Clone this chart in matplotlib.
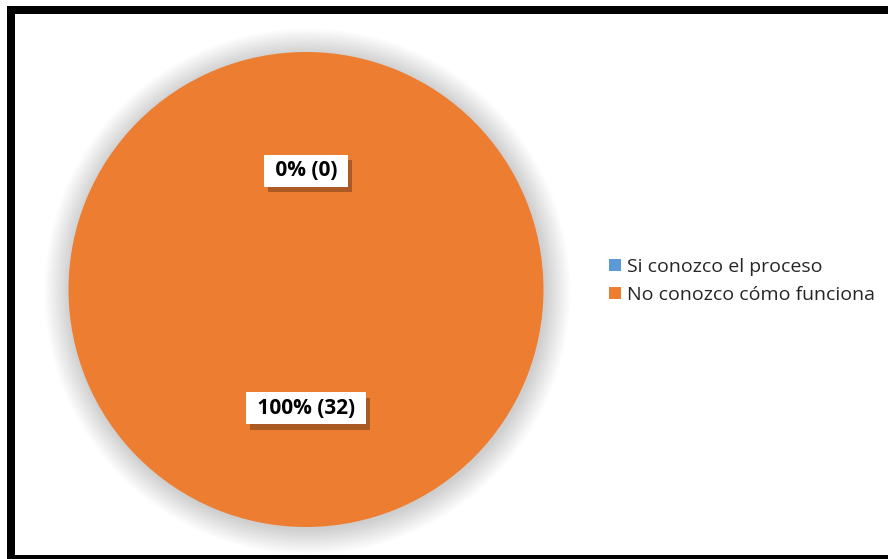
import matplotlib
matplotlib.use("Agg")
import matplotlib.pyplot as plt
from matplotlib.patches import Rectangle, Circle
import matplotlib.patheffects as pe

categories = ["Si conozco el proceso", "No conozco cómo funciona"]
counts = [0, 32]
colors = ["#5B9BD5", "#ED7D31"]

plt.rcParams['font.family'] = ['Open Sans', 'DejaVu Sans']

W, H = 888, 559
fig = plt.figure(figsize=(W/100, H/100), dpi=100)

cx, cy, r = 306, 289.5, 237.5
ax = fig.add_axes([(cx - r)/W, (H - cy - r)/H, 2*r/W, 2*r/H])
ax.set_aspect('equal')

# soft shadow halo
n = 24
for i in range(n):
    rr = 1.0 + 0.0045*(n - i)
    ax.add_patch(Circle((0.006, -0.008), rr, color='black', alpha=0.008, lw=0,
                        zorder=0, clip_on=False))

total = sum(counts)
def fmt(pct):
    return f" {pct:.0f}% ({round(pct*total/100)}) "

wedges, texts, autotexts = ax.pie(counts, colors=colors, startangle=90, counterclock=False,
                                  autopct=fmt, pctdistance=0.5, radius=1.0,
                                  wedgeprops=dict(linewidth=0, zorder=1))
for t in autotexts:
    t.set_fontsize(15)
    t.set_fontweight('bold')
    t.set_color('black')
    t.set_bbox(dict(boxstyle='square,pad=0.26', fc='white', ec='none'))
    t.get_bbox_patch().set_path_effects([pe.SimplePatchShadow(offset=(3, -4), shadow_rgbFace='black', alpha=0.28),
                                         pe.Normal()])
    t.set_zorder(5)
ax.set_xlim(-1, 1)
ax.set_ylim(-1, 1)
ax.axis('off')

leg = fig.legend(wedges, categories, loc='upper left', bbox_to_anchor=(601/W, (H - 250)/H),
                 frameon=False, fontsize=14, handlelength=0.62, handleheight=0.62,
                 handletextpad=0.3, labelspacing=0.52, borderaxespad=0)
for txt in leg.get_texts():
    txt.set_color('#262626')

fig.add_artist(Rectangle((11/W, 0), (892 - 11)/W, (H - 10)/H, transform=fig.transFigure,
                         fill=False, ec='black', lw=8*0.72, zorder=10))

fig.savefig("out.png", dpi=100)
